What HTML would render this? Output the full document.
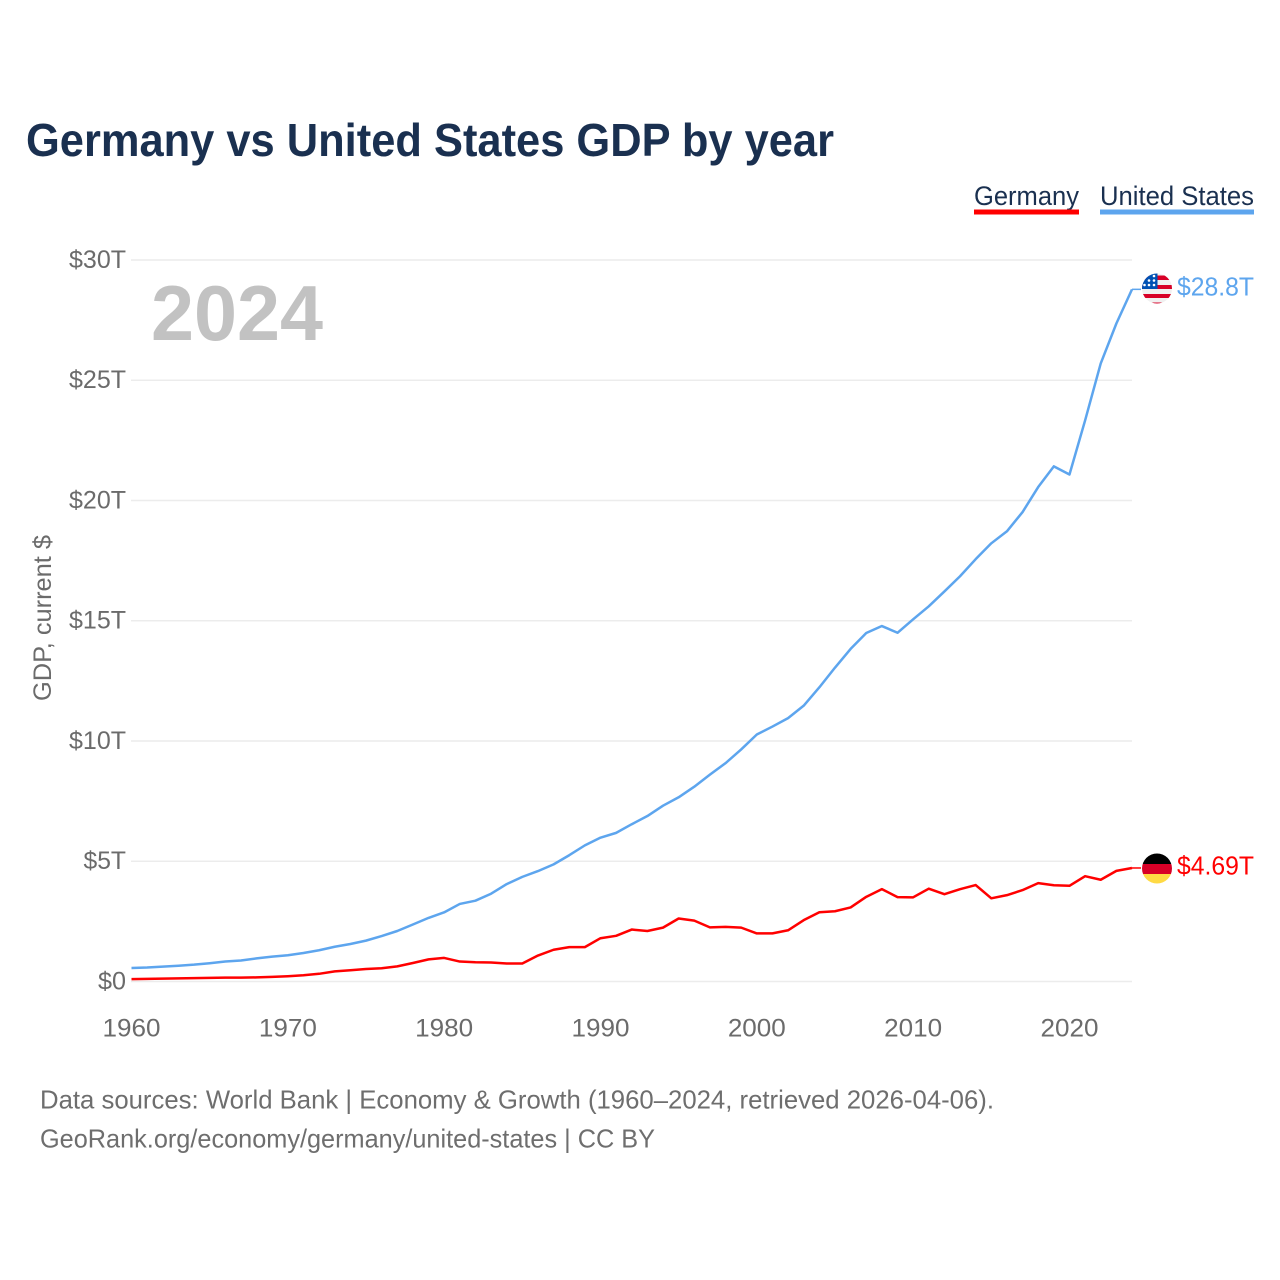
<!DOCTYPE html>
<html lang="en">
<head>
<meta charset="utf-8">
<title>Germany vs United States GDP by year</title>
<style>
html,body{margin:0;padding:0;background:#fff;width:1280px;height:1280px;overflow:hidden}
svg{display:block}
text{font-family:"Liberation Sans",sans-serif}
</style>
</head>
<body>
<svg id="chart" xmlns="http://www.w3.org/2000/svg" width="1280" height="1280" viewBox="0 0 1280 1280">
  <defs>
    <clipPath id="usClip"><circle cx="1157" cy="288.5" r="15"/></clipPath>
    <clipPath id="deClip"><circle cx="1157" cy="868.5" r="15"/></clipPath>
  </defs>
  <text x="26" y="156" font-size="46" font-weight="700" fill="#1a3050" textLength="808" lengthAdjust="spacingAndGlyphs">Germany vs United States GDP by year</text>

  <g>
    <text x="974" y="205" font-size="27" fill="#1a3050" textLength="105" lengthAdjust="spacingAndGlyphs">Germany</text>
    <rect x="974" y="209.5" width="105" height="5" fill="#ff0000"/>
  </g>
  <g>
    <text x="1100" y="205" font-size="27" fill="#1a3050" textLength="154" lengthAdjust="spacingAndGlyphs">United States</text>
    <rect x="1100" y="209.5" width="154" height="5" fill="#5da5ee"/>
  </g>

  <g id="grid"></g>
  <g id="yLabels"></g>
  <g id="xLabels"></g>

  <text transform="translate(51,701) rotate(-90)" x="0" y="0" font-size="25" fill="#6b6b6b" textLength="166" lengthAdjust="spacingAndGlyphs">GDP, current $</text>
  <text x="151" y="340" font-size="78" font-weight="700" fill="#c2c2c2" textLength="172" lengthAdjust="spacingAndGlyphs">2024</text>

  <g id="lines"></g>

  <g clip-path="url(#usClip)">
    <rect x="1142" y="273.5" width="30" height="30" fill="#f0f0f0"/>
    <rect x="1142" y="275.5" width="30" height="4.5" fill="#d80027"/>
    <rect x="1142" y="285" width="30" height="4" fill="#d80027"/>
    <rect x="1142" y="294" width="30" height="4" fill="#d80027"/>
    <rect x="1142" y="302.5" width="30" height="2" fill="#d80027"/>
    <rect x="1142" y="273" width="15.5" height="16" fill="#0052b4"/>
    <circle cx="1149" cy="285" r="1.3" fill="#fff"/><circle cx="1154" cy="285" r="1.3" fill="#fff"/>
    <circle cx="1154" cy="280.5" r="1.3" fill="#fff"/><circle cx="1149" cy="280.5" r="1.3" fill="#fff"/>
    <circle cx="1154" cy="276" r="1.3" fill="#fff"/><circle cx="1144.5" cy="285" r="1.3" fill="#fff"/>
  </g>
  <g clip-path="url(#deClip)">
    <rect x="1142" y="853.5" width="30" height="10.5" fill="#000"/>
    <rect x="1142" y="864" width="30" height="10" fill="#d80027"/>
    <rect x="1142" y="874" width="30" height="10" fill="#ffda44"/>
  </g>

  <text x="1177" y="295.5" font-size="26" fill="#5da5ee" textLength="77" lengthAdjust="spacingAndGlyphs">$28.8T</text>
  <text x="1177" y="874.5" font-size="26" fill="#ff0000" textLength="77" lengthAdjust="spacingAndGlyphs">$4.69T</text>

  <text x="40" y="1108.5" font-size="26" fill="#6e6e6e" textLength="954" lengthAdjust="spacingAndGlyphs">Data sources: World Bank | Economy &amp; Growth (1960–2024, retrieved 2026-04-06).</text>
  <text x="40" y="1147.5" font-size="26" fill="#6e6e6e" textLength="615" lengthAdjust="spacingAndGlyphs">GeoRank.org/economy/germany/united-states | CC BY</text>
</svg>
<script>
const startYear = 1960;
const xTickYears = [1960, 1970, 1980, 1990, 2000, 2010, 2020];
const yTickValues = [0, 5, 10, 15, 20, 25, 30];
const yTickLabels = ["$0", "$5T", "$10T", "$15T", "$20T", "$25T", "$30T"];
const unitedStatesGdp = [0.56,0.58,0.62,0.655,0.70,0.76,0.83,0.875,0.96,1.035,1.09,1.185,1.30,1.445,1.56,1.70,1.89,2.10,2.37,2.645,2.875,3.225,3.36,3.65,4.05,4.35,4.59,4.87,5.25,5.66,5.98,6.18,6.54,6.88,7.31,7.66,8.10,8.60,9.08,9.65,10.27,10.60,10.95,11.47,12.23,13.05,13.83,14.49,14.78,14.50,15.06,15.60,16.22,16.85,17.56,18.22,18.72,19.52,20.56,21.42,21.08,23.33,25.70,27.36,28.78];
const germanyGdp = [0.10,0.11,0.12,0.13,0.14,0.15,0.16,0.16,0.17,0.19,0.22,0.26,0.32,0.42,0.47,0.52,0.55,0.63,0.77,0.92,0.98,0.83,0.80,0.79,0.75,0.75,1.08,1.32,1.43,1.43,1.80,1.90,2.16,2.10,2.24,2.62,2.53,2.25,2.27,2.24,2.00,2.00,2.13,2.55,2.88,2.92,3.08,3.52,3.84,3.51,3.50,3.86,3.63,3.84,4.01,3.46,3.59,3.80,4.09,4.00,3.98,4.38,4.23,4.60,4.72];

const NS = "http://www.w3.org/2000/svg";
function xScale(year) { return 131.5 + (year - 1960) * (1132 - 131.5) / 64; }
function yScale(value) { return 981.5 - value * (981.5 - 260) / 30; }

const grid = document.getElementById("grid");
const yLabels = document.getElementById("yLabels");
const xLabels = document.getElementById("xLabels");
const linesGroup = document.getElementById("lines");

yTickValues.forEach(function (v, i) {
  const line = document.createElementNS(NS, "line");
  
  
  line.setAttribute("x1", 131);
  line.setAttribute("x2", 1132);
  line.setAttribute("y1", yScale(v));
  line.setAttribute("y2", yScale(v));
  line.setAttribute("stroke", "#ececec");
  line.setAttribute("stroke-width", "1.6");
  grid.appendChild(line);

  const label = document.createElementNS(NS, "text");
  
  
  label.setAttribute("x", 126);
  label.setAttribute("y", yScale(v) + 7.8);
  label.setAttribute("text-anchor", "end");
  label.setAttribute("font-size", "25");
  label.setAttribute("fill", "#6b6b6b");
  label.setAttribute("textLength", yTickLabels[i].length * 14.5 - (i === 0 ? 1 : 1));
  label.setAttribute("lengthAdjust", "spacingAndGlyphs");
  label.textContent = yTickLabels[i];
  yLabels.appendChild(label);
});

xTickYears.forEach(function (yr) {
  const label = document.createElementNS(NS, "text");
  
  
  label.setAttribute("x", xScale(yr));
  label.setAttribute("y", 1036.5);
  label.setAttribute("text-anchor", "middle");
  label.setAttribute("font-size", "25");
  label.setAttribute("fill", "#6b6b6b");
  label.setAttribute("textLength", "58");
  label.setAttribute("lengthAdjust", "spacingAndGlyphs");
  label.textContent = String(yr);
  xLabels.appendChild(label);
});

function pathFor(values) {
  return values.map(function (v, i) {
    return (i ? "L" : "M") + xScale(startYear + i).toFixed(2) + " " + yScale(v).toFixed(2);
  }).join(" ");
}

const usPath = document.createElementNS(NS, "path");


usPath.setAttribute("d", pathFor(unitedStatesGdp));
usPath.setAttribute("fill", "none");
usPath.setAttribute("stroke", "#5da5ee");
usPath.setAttribute("stroke-width", "2.5");
usPath.setAttribute("stroke-linejoin", "round");
linesGroup.appendChild(usPath);

const dePath = document.createElementNS(NS, "path");


dePath.setAttribute("d", pathFor(germanyGdp));
dePath.setAttribute("fill", "none");
dePath.setAttribute("stroke", "#ff0000");
dePath.setAttribute("stroke-width", "2.5");
dePath.setAttribute("stroke-linejoin", "round");
linesGroup.appendChild(dePath);

const lastUs = unitedStatesGdp[unitedStatesGdp.length - 1];
const usConnector = document.createElementNS(NS, "line");


usConnector.setAttribute("x1", 1132);
usConnector.setAttribute("x2", 1141);
usConnector.setAttribute("y1", yScale(lastUs));
usConnector.setAttribute("y2", yScale(lastUs));
usConnector.setAttribute("stroke", "#5da5ee");
usConnector.setAttribute("stroke-width", "1.5");
linesGroup.appendChild(usConnector);

const lastDe = germanyGdp[germanyGdp.length - 1];
const deConnector = document.createElementNS(NS, "line");


deConnector.setAttribute("x1", 1132);
deConnector.setAttribute("x2", 1141);
deConnector.setAttribute("y1", yScale(lastDe));
deConnector.setAttribute("y2", yScale(lastDe));
deConnector.setAttribute("stroke", "#ff0000");
deConnector.setAttribute("stroke-width", "1.5");
linesGroup.appendChild(deConnector);
</script>
</body>
</html>
